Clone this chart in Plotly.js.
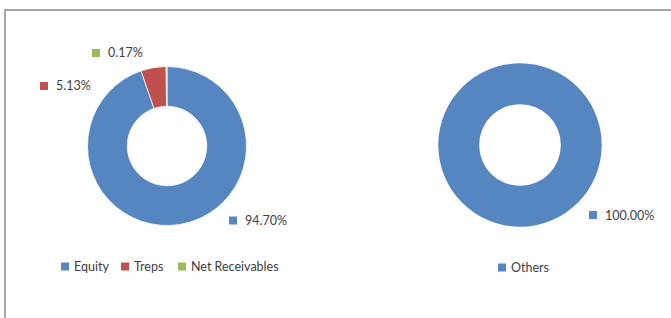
<!DOCTYPE html>
<html><head><meta charset="utf-8">
<script src="https://cdn.plot.ly/plotly-3.0.1.min.js"></script>
<style>html,body{margin:0;padding:0;background:#fff}#chart{width:671px;height:318px}</style>
</head><body><div id="chart"></div>
<script>
// ---- data ----
const assetLabels = ['Equity', 'Treps', 'Net Receivables'];
const assetValues = [94.70, 5.13, 0.17];
const otherLabels = ['Others'];
const otherValues = [100.00];
const assetColors = ['#5686c1', '#c0504d', '#9bbb59'];
const otherColors = ['#5686c1'];

// ---- layout helpers (pixel -> paper) ----
const W = 671, H = 318;
const px = x => x / W, py = y => 1 - y / H;

// positions in pixels: [square left, center y]
const assetLabelPos = [[229, 220.5], [40, 86], [92, 53]];
const otherLabelPos = [[589, 215]];
const assetLegendPos = [[61, 266.5], [121, 266.5], [178, 266.5]];
const otherLegendPos = [[498, 267.5]];

const textFont = {family: 'Lato, "Open Sans", sans-serif', size: 12.5, color: '#404040'};
const shapes = [];
const annotations = [];

function addTag(pos, color, text, gap) {
  shapes.push({type: 'rect', xref: 'paper', yref: 'paper',
    x0: px(pos[0]), x1: px(pos[0] + 8), y0: py(pos[1] + 4), y1: py(pos[1] - 4),
    fillcolor: color, line: {width: 0}});
  annotations.push({xref: 'paper', yref: 'paper', x: px(pos[0] + gap), y: py(pos[1]),
    xanchor: 'left', yanchor: 'middle', showarrow: false, text: text, font: textFont,
    borderpad: 0});
}

assetValues.forEach((v, i) => addTag(assetLabelPos[i], assetColors[i], v.toFixed(2) + '%', 15));
otherValues.forEach((v, i) => addTag(otherLabelPos[i], otherColors[i], v.toFixed(2) + '%', 15));
assetLabels.forEach((l, i) => addTag(assetLegendPos[i], assetColors[i], l, 12));
otherLabels.forEach((l, i) => addTag(otherLegendPos[i], otherColors[i], l, 12));

// frame lines
shapes.push({type: 'line', xref: 'paper', yref: 'paper', x0: px(4), x1: 1, y0: py(10), y1: py(10),
  line: {color: '#a5a5a5', width: 2}});
shapes.push({type: 'line', xref: 'paper', yref: 'paper', x0: px(5), x1: px(5), y0: py(9), y1: 0,
  line: {color: '#a5a5a5', width: 2}});

const traces = [
  {type: 'pie', labels: assetLabels, values: assetValues, hole: 0.5, sort: false,
   direction: 'clockwise', rotation: 0, textinfo: 'none', hoverinfo: 'label+percent',
   marker: {colors: assetColors, line: {color: '#ffffff', width: 0.75}},
   domain: {x: [px(87.5), px(246.5)], y: [py(225.5), py(66.5)]}, showlegend: false},
  {type: 'pie', labels: otherLabels, values: otherValues, hole: 0.5, sort: false,
   direction: 'clockwise', rotation: 0, textinfo: 'none', hoverinfo: 'label+percent',
   marker: {colors: otherColors, line: {color: '#ffffff', width: 0}},
   domain: {x: [px(438.3), px(601.7)], y: [py(226.7), py(63.3)]}, showlegend: false}
];

const layout = {
  width: W, height: H, margin: {l: 0, r: 0, t: 0, b: 0},
  paper_bgcolor: '#ffffff', plot_bgcolor: '#ffffff', showlegend: false,
  font: textFont, shapes: shapes, annotations: annotations
};
Plotly.newPlot('chart', traces, layout, {displayModeBar: false, staticPlot: true});
</script></body></html>
